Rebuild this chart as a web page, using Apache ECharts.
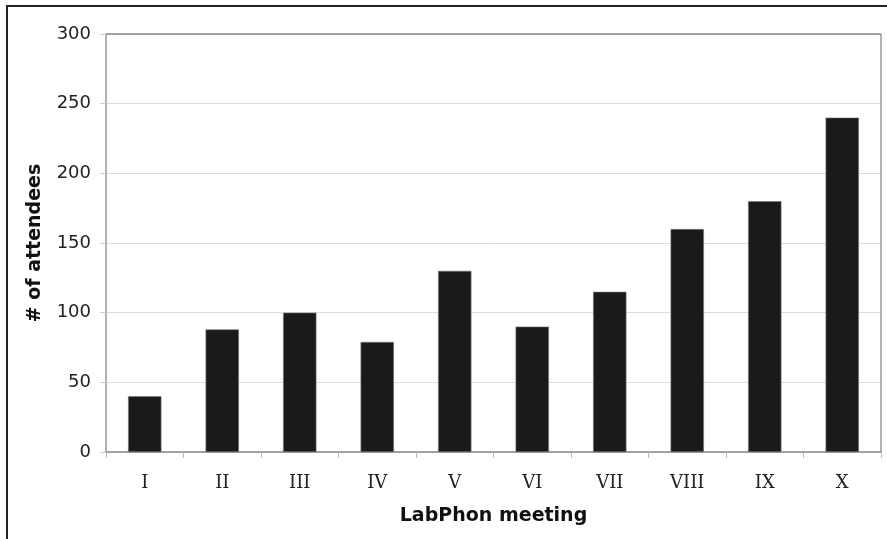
<!DOCTYPE html>
<html><head><meta charset="utf-8">
<script src="https://cdn.jsdelivr.net/npm/echarts@6/dist/echarts.min.js"></script>
<style>html,body{margin:0;padding:0;background:#fff}#c{width:887px;height:539px}</style>
</head><body><div id="c"></div>
<script>
const categories = ['I','II','III','IV','V','VI','VII','VIII','IX','X'];
const attendees = [40, 88, 100, 79, 130, 90, 115, 160, 180, 240];
const yTicks = [0, 50, 100, 150, 200, 250, 300];

const chart = echarts.init(document.getElementById('c'), null, {renderer:'canvas'});
chart.setOption({
  animation:false,
  graphic:[
    {type:'rect', shape:{x:7,y:6,width:890,height:550}, style:{fill:'none', stroke:'#222', lineWidth:2}, z:100},
    {type:'line', shape:{x1:106,y1:34,x2:881,y2:34}, style:{stroke:'#888', lineWidth:1.5}, z:50},
    {type:'line', shape:{x1:881,y1:34,x2:881,y2:452}, style:{stroke:'#999', lineWidth:1.5}, z:50}
  ],
  grid:{left:106, right:6, top:34, bottom:87, containLabel:false},
  xAxis:{
    type:'category', data:categories,
    name:'LabPhon meeting', nameLocation:'middle', nameGap:55,
    nameTextStyle:{fontFamily:'DejaVu Sans', fontWeight:'bold', fontSize:19, color:'#111'},
    axisLine:{lineStyle:{color:'#888', width:1.5}},
    axisTick:{show:true, length:6, lineStyle:{color:'#bbb'}},
    axisLabel:{fontFamily:'DejaVu Serif', fontSize:18, color:'#222', margin:22}
  },
  yAxis:{
    type:'value', min:yTicks[0], max:yTicks[yTicks.length-1], interval:50,
    name:'# of attendees', nameLocation:'middle', nameGap:61,
    nameTextStyle:{fontFamily:'DejaVu Sans', fontWeight:'bold', fontSize:19, color:'#111'},
    axisLine:{show:true, lineStyle:{color:'#999', width:1.5}},
    axisTick:{show:true, length:6, lineStyle:{color:'#ccc'}},
    axisLabel:{fontFamily:'DejaVu Sans', fontSize:18, color:'#222', margin:15},
    splitLine:{lineStyle:{color:'#ddd', width:1}}
  },
  series:[{
    type:'bar', data:attendees, barWidth:'43%',
    itemStyle:{color:'#1a1a1a', borderColor:'#777', borderWidth:0.6}
  }]
});
</script></body></html>
